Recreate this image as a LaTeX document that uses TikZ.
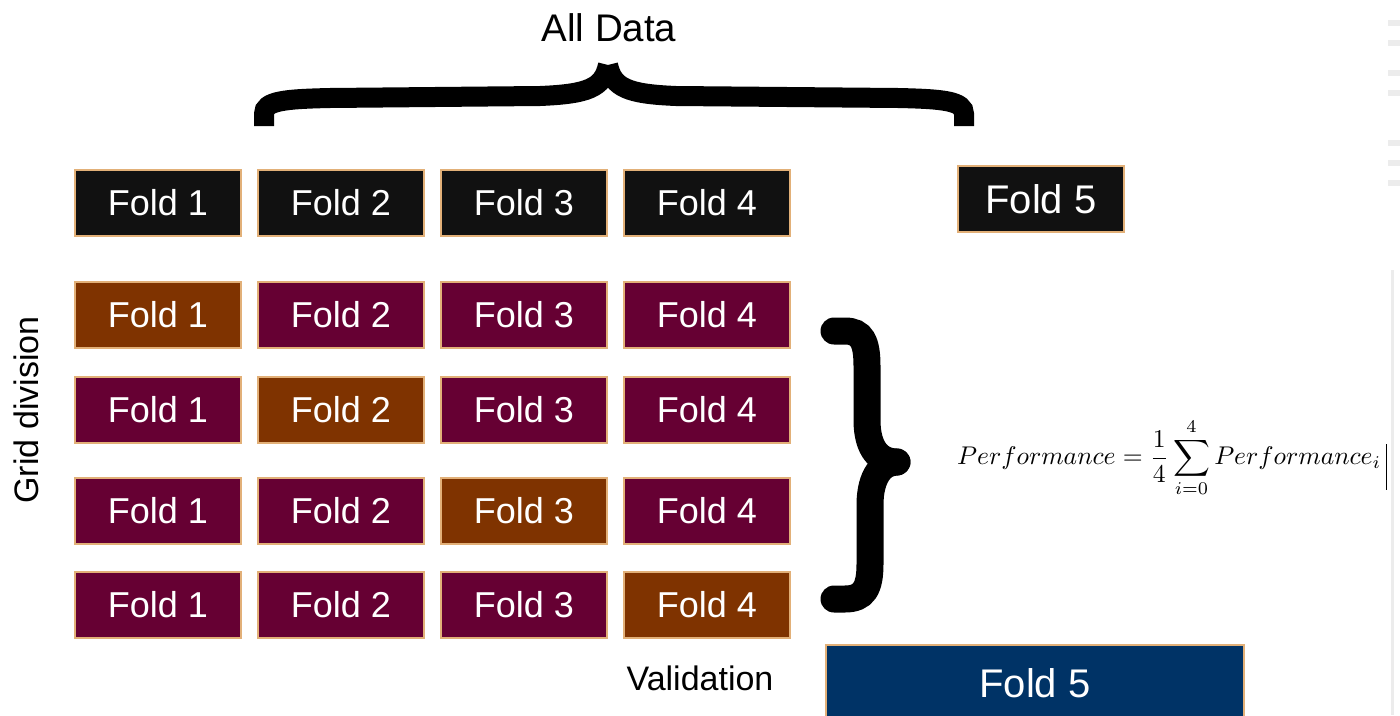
\documentclass[tikz,border=0pt]{standalone}
\usepackage{fontspec}
\setmainfont{Liberation Sans}
\usepackage{amsmath}
\usepackage{graphicx}

\definecolor{foldblack}{RGB}{17,17,17}
\definecolor{foldmaroon}{RGB}{102,0,51}
\definecolor{foldbrown}{RGB}{127,51,0}
\definecolor{foldnavy}{RGB}{0,51,102}
\definecolor{foldedge}{RGB}{226,176,120}
\definecolor{marklight}{RGB}{236,236,236}

\tikzset{
  fold/.style={draw=foldedge, line width=1.2pt, fill=#1, text=white,
    minimum width=166pt, minimum height=66pt, inner sep=0pt,
    font=\fontsize{36}{40}\selectfont},
  bigfold/.style={fold=#1, font=\fontsize{40}{44}\selectfont},
  label/.style={text=black, inner sep=0pt},
  bracestroke/.style={line width=20pt, line cap=butt, black},
  sidebrace/.style={line width=27pt, line cap=round, black},
}

\begin{document}
\begin{tikzpicture}[x=1pt, y=-1pt]
\useasboundingbox (0,0) rectangle (1400,715);
\clip (0,0) rectangle (1400,715);

% faint ornament along the right edge
\foreach \yy in {20,40,70,90,140,160,180}
  \fill[marklight] (1388,\yy) rectangle (1400,\yy+6);
\draw[marklight, line width=3pt] (1392,270) -- (1392,715);

% title and top brace
\node[label, font=\fontsize{38.5}{42}\selectfont] (all) at (609,28) {All Data};
\coordinate (bl) at (264,126);
\coordinate (bm) at (608,65);
\coordinate (br) at (964,126);
\draw[bracestroke] (bl) -- (264,114) .. controls (264,101) and (284,99) .. (330,98)
  -- (540,96) .. controls (588,94) and (603,88) .. (bm);
\draw[bracestroke] (br) -- (964,114) .. controls (964,101) and (944,99) .. (898,98)
  -- (676,96) .. controls (628,94) and (613,88) .. (bm);

% top row: the data split into folds
\node[fold=foldblack] (t1) at (158,203) {Fold 1};
\node[fold=foldblack] (t2) at (341,203) {Fold 2};
\node[fold=foldblack] (t3) at (524,203) {Fold 3};
\node[fold=foldblack] (t4) at (707,203) {Fold 4};
\node[bigfold=foldblack] (t5) at (1041,199) {Fold 5};

% cross-validation grid
\node[fold=foldbrown]  (a1) at (158,315) {Fold 1};
\node[fold=foldmaroon] (a2) at (341,315) {Fold 2};
\node[fold=foldmaroon] (a3) at (524,315) {Fold 3};
\node[fold=foldmaroon] (a4) at (707,315) {Fold 4};

\node[fold=foldmaroon] (b1) at (158,410) {Fold 1};
\node[fold=foldbrown]  (b2) at (341,410) {Fold 2};
\node[fold=foldmaroon] (b3) at (524,410) {Fold 3};
\node[fold=foldmaroon] (b4) at (707,410) {Fold 4};

\node[fold=foldmaroon] (c1) at (158,511) {Fold 1};
\node[fold=foldmaroon] (c2) at (341,511) {Fold 2};
\node[fold=foldbrown]  (c3) at (524,511) {Fold 3};
\node[fold=foldmaroon] (c4) at (707,511) {Fold 4};

\node[fold=foldmaroon] (d1) at (158,605) {Fold 1};
\node[fold=foldmaroon] (d2) at (341,605) {Fold 2};
\node[fold=foldmaroon] (d3) at (524,605) {Fold 3};
\node[fold=foldbrown]  (d4) at (707,605) {Fold 4};

\node[label, rotate=90, font=\fontsize{34}{38}\selectfont] (grid) at (26,410) {Grid division};
\node[label, font=\fontsize{34}{38}\selectfont, anchor=base] (valid) at (700,690) {Validation};

% right brace gathering the four runs
\coordinate (st) at (834,331);
\coordinate (sm) at (897,462);
\coordinate (sb) at (834,599);
\draw[sidebrace] (st) -- (845,331) .. controls (862,331) and (867,342) .. (867,366)
  -- (867,420) .. controls (867,450) and (880,462) .. (sm);
\draw[sidebrace] (sb) -- (845,599) .. controls (864,599) and (870,588) .. (870,564)
  -- (870,505) .. controls (870,476) and (882,462) .. (sm);

% averaged performance
\node[anchor=west, inner sep=0pt] (perf) at (957,458)
  {\resizebox{424pt}{!}{$\displaystyle Performance=\frac{1}{4}\sum_{i=0}^{4}Performance_{i}$}};
\draw[black, line width=1pt] (1386,444) -- (1386,490);

% final held-out fold
\node[draw=foldedge, line width=1.2pt, fill=foldnavy, text=white, inner sep=0pt,
  minimum width=418pt, minimum height=76pt,
  font=\fontsize{40}{44}\selectfont] (f5) at (1035,683) {Fold 5};
\end{tikzpicture}
\end{document}
